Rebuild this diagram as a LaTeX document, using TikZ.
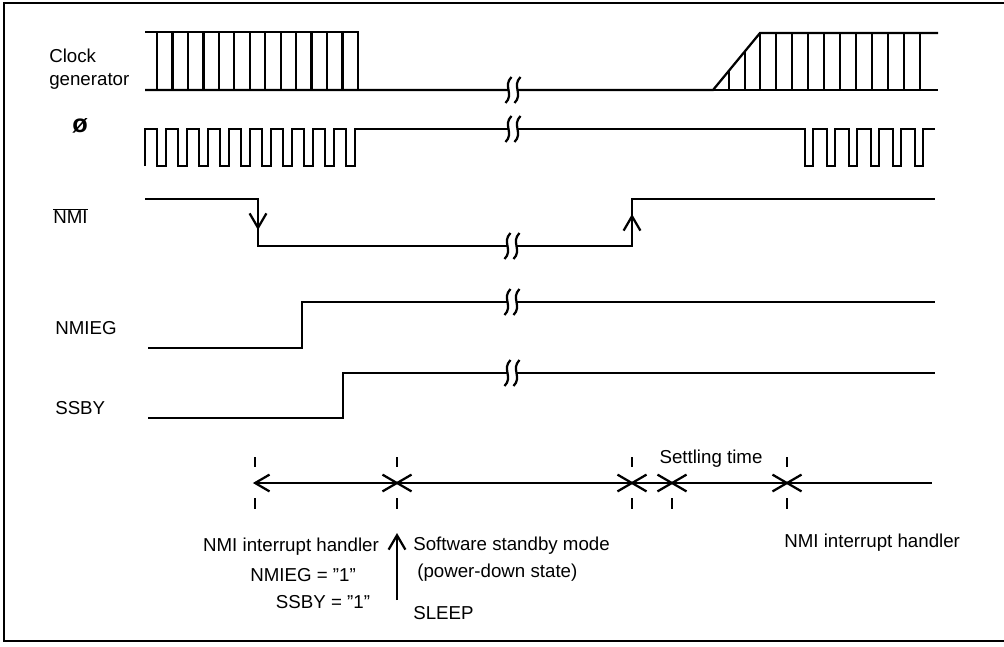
\documentclass[tikz,border=0pt]{standalone}
\usepackage{fontspec}
\setmainfont{Liberation Sans}
\usetikzlibrary{arrows.meta}

\tikzset{
  sig/.style={line width=1.6pt},
  tick/.style={line width=1.7pt},
  dimln/.style={line width=1.6pt, shorten >=-1.5pt, shorten <=-1.5pt},
  lbl/.style={font=\fontsize{13.3}{16}\selectfont, inner sep=0pt},
  brk/.pic={
    \fill[white] (-1.5,-13) .. controls (-10.5,-4) and (1.5,4) .. (-7.5,13)
      -- (1.5,13) .. controls (10.5,4) and (-1.5,-4) .. (7.5,-13) -- cycle;
    \draw[sig] (-1.5,-13) .. controls (-10.5,-4) and (1.5,4) .. (-7.5,13);
    \draw[sig] (7.5,-13) .. controls (-1.5,-4) and (10.5,4) .. (1.5,13);
  }
}

\begin{document}
\begin{tikzpicture}[x=0.025cm,y=-0.025cm,>={Straight Barb[length=3.6mm,width=4.2mm]}]
\useasboundingbox (0,0) rectangle (1004,646);
\draw[line width=1.3pt] (1004,3) -- (4,3) -- (4,641) -- (1004,641);

% signal names
\node[lbl,anchor=west,align=left] (clk) at (49,69) {Clock\\generator};
\node[lbl,font=\fontsize{18}{20}\selectfont\bfseries] (phi) at (80,126) {ø};
\node[lbl,anchor=west] (nmi) at (53,216) {$\overline{\hbox{NMI}}$};
\node[lbl,anchor=west] (nmieg) at (55,328) {NMIEG};
\node[lbl,anchor=west] (ssby) at (55,408) {SSBY};

% clock generator
\draw[sig] (145,32) -- (358,32) -- (358,90);
\draw[sig] (145,90) -- (713,90) -- (760,33) -- (938,33);
\draw[sig] (713,90) -- (938,90);
\foreach \k in {0,...,12} \draw[sig] (157+15.46*\k,32) -- ++(0,58);
\draw[sig] (729,90) -- (729,70.6);
\draw[sig] (745,90) -- (745,51.2);
\foreach \x in {760,776,...,920} \draw[sig] (\x,33) -- (\x,90);

% phi
\draw[sig] (145,166) \foreach \k in {0,...,9} { -- ++(0,-37) -- ++(12,0) -- ++(0,37) -- ++(9,0) }
  -- ++(0,-37) -- (805,129) -- (805,166)
  \foreach \k in {1,...,5} { -- ++(8,0) -- ++(0,-37) -- ++(14,0) -- ++(0,37) }
  -- ++(8,0) -- ++(0,-37) -- (935,129);

% NMI, NMIEG, SSBY
\draw[sig] (145,199) -- (258,199) -- (258,246) -- (632,246) -- (632,199) -- (935,199);
\draw[sig,->] (258,203) -- (258,230);
\draw[sig,->] (632,242) -- (632,214);
\draw[sig] (148,348) -- (302,348) -- (302,302) -- (935,302);
\draw[sig] (148,418) -- (343,418) -- (343,373) -- (935,373);

\pic at (513,90) {brk};
\pic at (513,129) {brk};
\pic at (512,246) {brk};
\pic at (512,302) {brk};
\pic at (512,373) {brk};

% time marks
\coordinate (m1) at (255,483);
\coordinate (m2) at (397,483);
\coordinate (m3) at (632,483);
\coordinate (m4) at (672,483);
\coordinate (m5) at (787,483);
\coordinate (mend) at (932,483);
\draw[dimln,<->] (m1) -- (m2);
\draw[dimln,<->] (m2) -- (m3);
\draw[dimln,<->] (m3) -- (m4);
\draw[dimln,<->] (m4) -- (m5);
\draw[dimln,<-,shorten >=0pt] (m5) -- (mend);
\foreach \m in {m1,m2,m3,m5} {
  \draw[tick] ([yshift=0.65cm]\m) -- ++(0,10);
  \draw[tick] ([yshift=-0.38cm]\m) -- ++(0,11);
}
\draw[tick] ([yshift=-0.38cm]m4) -- ++(0,11);

\node[lbl] (settle) at (711,459) {Settling time};
\node[lbl] (hnd1) at (291,547) {NMI interrupt handler};
\node[lbl] (eg1) at (303,575) {NMIEG = \symbol{34}1\symbol{34}};
\node[lbl] (sb1) at (323,602) {SSBY = \symbol{34}1\symbol{34}};
\coordinate (slp) at (397,600);
\draw[sig,->] (slp) -- (397,533);
\node[lbl,anchor=west] (sbm) at (413,546) {Software standby mode};
\node[lbl,anchor=west] (pd) at (417,573) {(power-down state)};
\node[lbl,anchor=west] (sleep) at (413,613) {SLEEP};
\node[lbl,anchor=west] (hnd2) at (784,543) {NMI interrupt handler};
\end{tikzpicture}
\end{document}
